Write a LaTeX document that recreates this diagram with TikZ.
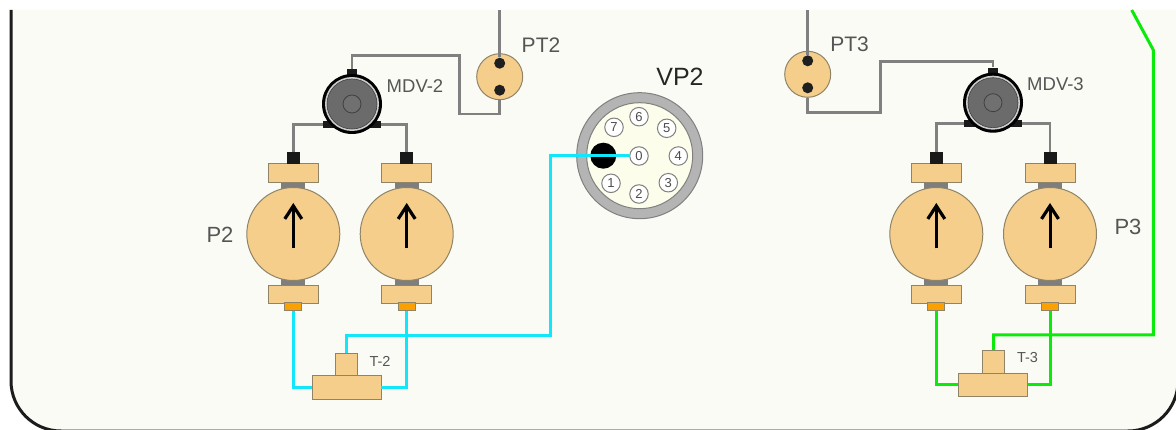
\documentclass[tikz,border=0pt]{standalone}
\usepackage{fontspec}
\setmainfont{Liberation Sans}
\usepackage{xcolor}
\usetikzlibrary{arrows.meta,calc,positioning}
\definecolor{panel}{HTML}{FBFBF6}
\definecolor{frame}{HTML}{1C1C1C}
\definecolor{tan}{HTML}{F4CE8A}
\definecolor{edge}{HTML}{8F8468}
\definecolor{pipe}{HTML}{808080}
\definecolor{neckgrey}{HTML}{7E7E7E}
\definecolor{orangeport}{HTML}{FAA000}
\definecolor{cyanline}{HTML}{12E6FA}
\definecolor{greenline}{HTML}{0CEA0C}
\definecolor{cream}{HTML}{FDFDEB}
\definecolor{ringgrey}{HTML}{B4B4B4}
\definecolor{label}{HTML}{555555}
\tikzset{box/.style={draw=edge,fill=tan,line width=.8pt,inner sep=0pt,rectangle},pumpbody/.style={draw=edge,fill=tan,line width=1pt,circle,inner sep=0pt,minimum size=93pt},
blackport/.style={fill=black!90,inner sep=0pt,rectangle},sensor/.style={draw=pipe,line width=2.8pt},cyantube/.style={draw=cyanline,line width=3pt},greentube/.style={draw=greenline,line width=3pt},
txt/.style={text=label,inner sep=0pt},dot/.style={fill=black!88,circle,inner sep=0pt,minimum size=11pt},pin/.style={circle,draw=black!50,fill=white,line width=1pt,inner sep=0pt,minimum size=18.5pt,font=\fontsize{13}{13}\selectfont,text=black!70}}
\begin{document}
\begin{tikzpicture}[x=1pt,y=-1pt]
\useasboundingbox (0,0) rectangle (1176,430);
\fill[panel,rounded corners=50pt] (11,10)--(11,431)--(1178,431)--(1178,10);
\draw[frame,line width=3pt,rounded corners=50pt] (11,10)--(11,431)--(1178,431)--(1178,10);
\foreach \pname/\x in {pa/293.3,pb/406.7,pc/936.3,pd/1050}{
\fill[neckgrey] (\x-12,182) rectangle (\x+12,192);\fill[neckgrey] (\x-12,277) rectangle (\x+12,286);
\node[pumpbody] (\pname) at (\x,234) {};
\node[box,minimum width=50pt,minimum height=19pt] (\pname top) at (\x,173) {};
\node[box,minimum width=50pt,minimum height=18pt] (\pname low) at (\x,294) {};
\node[blackport,minimum width=13pt,minimum height=11.5pt] (\pname in) at (\x,158) {};
\node[draw=edge,fill=orangeport,line width=.8pt,inner sep=0pt,minimum width=17pt,minimum height=8pt] (\pname out) at (\x,306.7) {};
\draw[black,line width=3pt,-{Straight Barb[length=13pt,width=17pt,line width=3.2pt]}] (\x,248.5)--(\x,203);
}
\foreach \vname/\x/\y in {mdvl/352/104,mdvr/993/102.7}{
\node[blackport,minimum width=10pt,minimum height=8pt] (\vname up) at (\x,\y-31) {};
\node[blackport,minimum width=12pt,minimum height=7pt] (\vname left) at (\x-23,\y+20.5) {};
\node[blackport,minimum width=12pt,minimum height=7pt] (\vname right) at (\x+23,\y+20.5) {};
\node[fill=black,circle,inner sep=0pt,minimum size=60pt] (\vname) at (\x,\y) {};
\node[fill=white!80!black,circle,inner sep=0pt,minimum size=54pt] (\vname ring) at (\x,\y) {};
\node[fill=black!58,draw=black!75,line width=.6pt,circle,inner sep=0pt,minimum size=50pt] (\vname disc) at (\x,\y) {};
\node[draw=black!75,fill=black!56,line width=.8pt,circle,inner sep=0pt,minimum size=18pt] (\vname hub) at (\x,\y) {};
}
\foreach \sname/\x/\y in {ptl/499.7/76.7,ptr/807.7/74.3}{
\node[pumpbody,minimum size=46pt] (\sname) at (\x,\y) {};
\node[dot] (\sname a) at (\x,\y-13.5) {};\node[dot] (\sname b) at (\x,\y+13.5) {};
}
\coordinate (ptltop) at (499.7,10);\coordinate (ptrtop) at (807.7,10);
\coordinate (ptlturn) at (459.3,55.7);\coordinate (ptllow) at (499.7,114);
\coordinate (ptrlow) at (880.3,112.7);\coordinate (ptrturn) at (880.3,61.7);
\draw[sensor] (ptla.north)--(ptltop);\draw[sensor] (ptra.north)--(ptrtop);
\draw[sensor] (mdvlup.north)|-(ptlturn)|-(ptllow)--(ptl.south);
\draw[sensor] (ptr.south)|-(ptrlow)--(ptrturn)-|(mdvrup.north);
\draw[sensor] (mdvlleft.west)-|(pain.north);\draw[sensor] (mdvlright.east)-|(pbin.north);
\draw[sensor] (mdvrleft.west)-|(pcin.north);\draw[sensor] (mdvrright.east)-|(pdin.north);
\node[box,minimum width=69pt,minimum height=23.5pt] (tl) at (346.5,387.5) {};
\node[box,minimum width=22.5pt,minimum height=22.5pt] (tlstem) at (346.3,364.5) {};
\node[box,minimum width=69pt,minimum height=23pt] (tr) at (993.3,384.7) {};
\node[box,minimum width=22.5pt,minimum height=23pt] (trstem) at (993.6,361.8) {};
\node[circle,fill=ringgrey,draw=pipe,line width=1pt,inner sep=0pt,minimum size=126pt] (vp) at (639.7,155.7) {};
\node[circle,fill=cream,draw=pipe,line width=1pt,inner sep=0pt,minimum size=106pt] (vpin) at (639.7,155.7) {};
\node[circle,fill=black,inner sep=0pt,minimum size=26pt] (vphole) at (603.3,155.7) {};
\foreach \n/\x/\y in {0/639/156,1/611/183.3,2/639/194,3/668.3/182.7,4/678.3/156,5/666.7/128.3,6/639/116.7,7/614/127.3}{
\node[pin] (pin\n) at (\x,\y) {\n};}
\coordinate (cyanhigh) at (346.3,336);\coordinate (cyanup) at (550,336);
\coordinate (greenhigh) at (1153.3,335);\coordinate (greenbend) at (1153.3,50);\coordinate (greentop) at (1131.7,10);
\draw[cyantube] (paout.south)|-(tl.west);\draw[cyantube] (pbout.south)|-(tl.east);
\draw[cyantube] (tlstem.north)--(cyanhigh)--(cyanup)|-(pin0.west);
\draw[greentube] (pcout.south)|-(tr.west);\draw[greentube] (pdout.south)|-(tr.east);
\draw[greentube] (trstem.north)|-(greenhigh)--(greenbend)--(greentop);
\node[txt,font=\fontsize{21}{21}\selectfont] (ptllabel) at (541,45) {PT2};
\node[txt,font=\fontsize{21}{21}\selectfont] (ptrlabel) at (849.5,44) {PT3};
\node[txt,font=\fontsize{18.5}{18.5}\selectfont] (mdvllabel) at (415,85.7) {MDV-2};
\node[txt,font=\fontsize{18.5}{18.5}\selectfont] (mdvrlabel) at (1055.5,84.5) {MDV-3};
\node[txt,font=\fontsize{22}{22}\selectfont] (pllabel) at (220,235) {P2};
\node[txt,font=\fontsize{22}{22}\selectfont] (prlabel) at (1128,227) {P3};
\node[txt,font=\fontsize{14.5}{14.5}\selectfont] (tllabel) at (380,361.5) {T-2};
\node[txt,font=\fontsize{14.5}{14.5}\selectfont] (trlabel) at (1027.5,358) {T-3};
\node[txt,text=black!85,font=\fontsize{25}{25}\selectfont] (vplabel) at (680,77) {VP2};
\end{tikzpicture}
\end{document}
